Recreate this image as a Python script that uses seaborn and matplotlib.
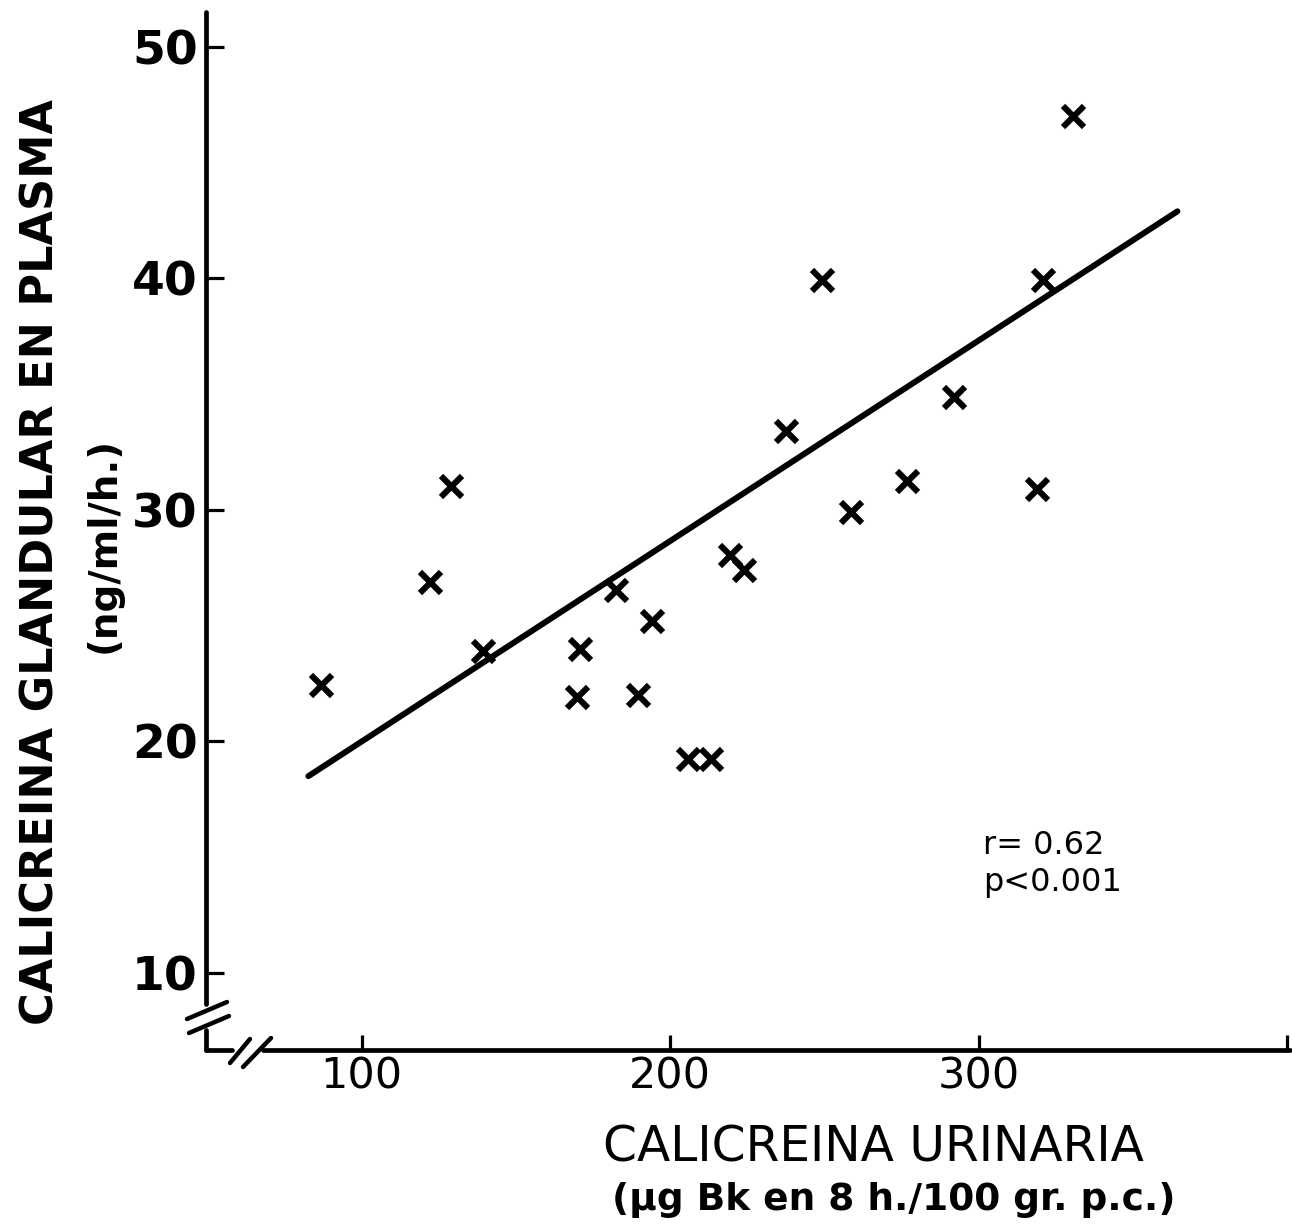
import matplotlib
matplotlib.use("Agg")
import matplotlib.pyplot as plt
from matplotlib.lines import Line2D
import seaborn as sns
import pandas as pd

# ---- data ----
urinaria = [86.8, 122.1, 128.9, 139.3, 169.8, 170.8, 182.5, 194.1, 189.6, 205.8,
            213.3, 219.5, 224.0, 237.6, 249.3, 258.7, 276.9, 292.1, 319.0, 321.0, 330.7]
plasma = [22.45, 26.9, 31.05, 23.9, 21.9, 24.0, 26.55, 25.2, 22.0, 19.25,
          19.25, 28.05, 27.4, 33.4, 39.95, 29.9, 31.25, 34.9, 30.9, 39.95, 47.0]
fit_x = [82.7, 364.5]
fit_y = [18.5, 42.9]
x_ticks = [100, 200, 300, 400]
x_tick_labels = ["100", "200", "300", ""]
y_ticks = [10, 20, 30, 40, 50]
y_tick_labels = ["10", "20", "30", "40", "50"]
stats_text = "r= 0.62\np<0.001"

df = pd.DataFrame({"urinaria": urinaria, "plasma": plasma})
fit = pd.DataFrame({"x": fit_x, "y": fit_y})

sns.set_style("white")
plt.rcParams["font.family"] = ["DejaVu Sans"]
plt.rcParams["text.color"] = "black"
plt.rcParams["xtick.color"] = "black"
plt.rcParams["ytick.color"] = "black"
plt.rcParams["xtick.labelcolor"] = "black"
plt.rcParams["ytick.labelcolor"] = "black"

W, H = 1292, 1225
fig = plt.figure(figsize=(W / 100, H / 100), dpi=100)
fig.patch.set_facecolor("white")

def fx(x):
    return x / W

def fy(y):
    return 1 - y / H

ax_left, ax_right, ax_top, ax_bottom = 206, 1290, 12, 1050
ax = fig.add_axes([fx(ax_left), fy(ax_bottom), (ax_right - ax_left) / W, (ax_bottom - ax_top) / H])
ax.set_facecolor("white")

sns.lineplot(data=fit, x="x", y="y", ax=ax, color="black", linewidth=4.3,
             solid_capstyle="round", legend=False)
sns.scatterplot(data=df, x="urinaria", y="plasma", ax=ax, marker="x", color="black",
                s=230, linewidth=4.4, legend=False, zorder=5)

ax.set_xlim(49.5, 401.0)
ax.set_ylim(6.67, 51.51)

for s in ax.spines.values():
    s.set_visible(False)

ax.set_xticks(x_ticks)
ax.set_xticklabels(x_tick_labels, fontsize=31, color="black")
ax.set_yticks(y_ticks)
ax.set_yticklabels(y_tick_labels, fontsize=34, fontweight="bold", color="black")
ax.tick_params(axis="y", direction="in", length=13, width=2.3, pad=6, color="black", left=True)
ax.tick_params(axis="x", direction="in", length=11, width=2.3, pad=4, color="black", bottom=True)
ax.set_xlabel("")
ax.set_ylabel("")

# ---- axis lines with break marks (figure pixel coordinates) ----
def seg(x0, y0, x1, y1, lw=3.4):
    fig.add_artist(Line2D([fx(x0), fx(x1)], [fy(y0), fy(y1)], transform=fig.transFigure,
                          color="black", linewidth=lw, solid_capstyle="round"))

seg(206, 12, 206, 1004)
seg(206, 1030, 206, 1050)
seg(206, 1050, 232, 1050)
seg(263, 1050, 1290, 1050)
# y-axis break
seg(187, 1019, 227, 1002, lw=3.2)
seg(189, 1033, 229, 1016, lw=3.2)
# x-axis break
seg(230, 1063, 250, 1039, lw=3.2)
seg(243, 1067, 271, 1038, lw=3.2)

# ---- labels ----
fig.text(fx(41), fy(562), "CALICREINA GLANDULAR EN PLASMA", rotation=90,
         ha="center", va="center", fontsize=32, fontweight="bold", color="black")
fig.text(fx(104), fy(545), "(ng/ml/h.)", rotation=90,
         ha="center", va="center", fontsize=28, fontweight="bold", color="black")
fig.text(fx(873), fy(1148), "CALICREINA URINARIA", ha="center", va="center",
         fontsize=35, color="black")
fig.text(fx(894), fy(1200), "(\u00b5g Bk en 8 h./100 gr. p.c.)", ha="center", va="center",
         fontsize=27, fontweight="bold", color="black")
fig.text(fx(983), fy(864), stats_text, ha="left", va="center", fontsize=23,
         linespacing=1.25, color="black")

fig.savefig("out.png", dpi=100, facecolor="white")
